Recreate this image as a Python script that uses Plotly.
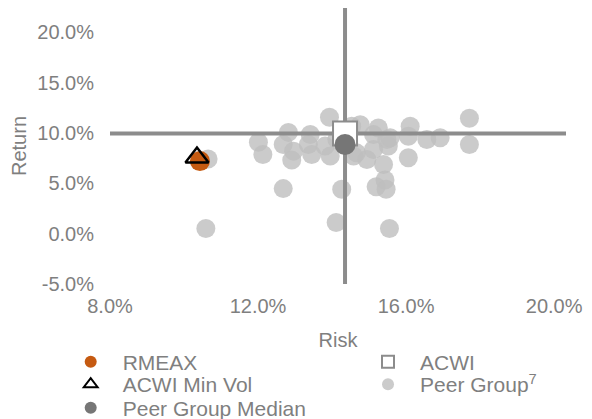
import plotly.graph_objects as go

# ---- data (percent) ----
peer_risk = [13.93, 17.71, 12.82, 13.41, 12.01, 12.13, 12.68, 12.91, 12.96, 13.36,
             13.45, 13.95, 13.81, 14.53, 14.76, 15.25, 15.12, 15.48, 15.52, 14.66,
             14.94, 15.12, 15.39, 15.43, 15.19, 15.46, 16.11, 16.06, 16.06, 16.56,
             16.92, 17.71, 12.68, 14.26, 10.59, 14.11, 15.55, 10.65, 14.13, 14.58,
             15.57]
peer_return = [11.55, 11.45, 10.05, 9.85, 9.08, 7.86, 8.85, 7.30, 8.19, 8.85,
               7.86, 7.70, 8.69, 10.66, 10.82, 10.49, 9.83, 9.34, 8.69, 8.02,
               7.36, 8.35, 6.87, 5.33, 4.66, 4.40, 10.66, 9.67, 7.53, 9.34,
               9.51, 8.85, 4.47, 4.40, 0.51, 1.11, 0.51, 7.40, 9.34, 7.70,
               9.51]

rmeax_risk, rmeax_return = [10.43], [7.2]
minvol_risk, minvol_return = [10.35], [7.55]
acwi_risk, acwi_return = [14.35], [9.95]
median_risk, median_return = [14.35], [8.85]

x_range = [8.0, 20.32]
y_range = [-5.0, 22.4]
x_ticks = [8, 12, 16, 20]
y_ticks = [-5, 0, 5, 10, 15, 20]

FONT = "Liberation Sans, Arial, sans-serif"
TXT = "#7f7f7f"
LINE = "#8c8c8c"

fig = go.Figure()

fig.add_trace(go.Scatter(
    x=peer_risk, y=peer_return, mode="markers", name="Peer Group<sup>7</sup>",
    marker=dict(size=19, color="rgba(190,190,190,0.8)", line=dict(width=0)),
    legend="legend5"))

# quadrant lines through ACWI
fig.add_trace(go.Scatter(
    x=[acwi_risk[0], acwi_risk[0]], y=[y_range[0], y_range[1]], mode="lines",
    line=dict(color=LINE, width=4), showlegend=False, hoverinfo="skip",
    legend="legend5"))
fig.add_trace(go.Scatter(
    x=[x_range[0], x_range[1]], y=[acwi_return[0], acwi_return[0]], mode="lines",
    line=dict(color=LINE, width=4), showlegend=False, hoverinfo="skip",
    legend="legend5"))

fig.add_trace(go.Scatter(
    x=acwi_risk, y=acwi_return, mode="markers", name="ACWI",
    marker=dict(symbol="square", size=24, color="white", line=dict(color=LINE, width=2)),
    legend="legend4"))
fig.add_trace(go.Scatter(
    x=median_risk, y=median_return, mode="markers", name="Peer Group Median",
    marker=dict(size=21, color="#767676", line=dict(width=0)),
    legend="legend3"))
fig.add_trace(go.Scatter(
    x=rmeax_risk, y=rmeax_return, mode="markers", name="RMEAX",
    marker=dict(size=20, color="#c55a11", line=dict(width=0)),
    legend="legend6"))
fig.add_trace(go.Scatter(
    x=minvol_risk, y=minvol_return, mode="markers", name="ACWI Min Vol",
    marker=dict(symbol="triangle-up-open", size=20, color="black", line=dict(color="black", width=2.5)),
    legend="legend2"))

legend_common = dict(
    orientation="v", xref="paper", yref="paper", xanchor="left", yanchor="middle",
    font=dict(family=FONT, size=21, color=TXT), bgcolor="rgba(0,0,0,0)",
    itemsizing="constant", itemwidth=54, borderwidth=0)

col1_x, col2_x = -0.1125, 0.5395
row_y = [-0.2826, -0.3641, -0.4500]

fig.update_layout(
    width=584, height=411,
    margin=dict(l=102, r=26, t=0, b=135, autoexpand=False),
    paper_bgcolor="white", plot_bgcolor="white",
    font=dict(family=FONT, size=20, color=TXT),
    xaxis=dict(range=x_range, tickvals=x_ticks, ticktext=[f"{v:.1f}%" for v in x_ticks],
               showgrid=False, zeroline=False, showline=False, ticks="", automargin=False,
               ticklabelstandoff=8,
               tickfont=dict(size=20, color=TXT),
               title=dict(text="Risk", font=dict(size=20, color=TXT), standoff=16)),
    yaxis=dict(range=y_range, tickvals=y_ticks, ticktext=[f"{v:.1f}%" for v in y_ticks],
               showgrid=False, zeroline=False, showline=False, ticks="", automargin=False,
               ticklabelstandoff=15,
               tickfont=dict(size=20, color=TXT),
               title=dict(text="Return", font=dict(size=20, color=TXT), standoff=13)),
    legend6=dict(x=col1_x, y=row_y[0], **legend_common),
    legend2=dict(x=col1_x, y=row_y[1], **legend_common),
    legend3=dict(x=col1_x, y=row_y[2], **legend_common),
    legend4=dict(x=col2_x, y=row_y[0], **legend_common),
    legend5=dict(x=col2_x, y=row_y[1], **legend_common),
    showlegend=True,
)

fig.write_html("out.html")
